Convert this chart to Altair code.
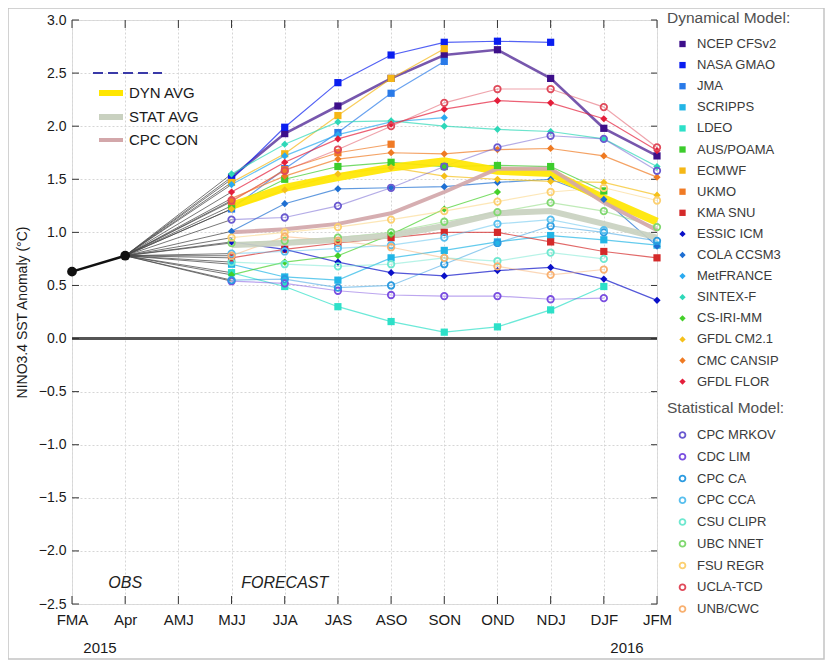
import altair as alt
import pandas as pd

FONT = "Liberation Sans"
W, H = 585, 584

months = ["FMA", "Apr", "AMJ", "MJJ", "JJA", "JAS", "ASO", "SON", "OND", "NDJ", "DJF", "JFM"]
fc_months = ["MJJ", "JJA", "JAS", "ASO", "SON", "OND", "NDJ", "DJF", "JFM"]
yticks = [-2.5, -2.0, -1.5, -1.0, -0.5, 0.0, 0.5, 1.0, 1.5, 2.0, 2.5, 3.0]

obs_months = ["FMA", "Apr"]
obs_values = [0.63, 0.78]

dyn_names = ["NCEP CFSv2", "NASA GMAO", "JMA", "SCRIPPS", "LDEO", "AUS/POAMA", "ECMWF", "UKMO",
             "KMA SNU", "ESSIC ICM", "COLA CCSM3", "MetFRANCE", "SINTEX-F", "CS-IRI-MM",
             "GFDL CM2.1", "CMC CANSIP", "GFDL FLOR"]
dyn_colors = ["#3d0f8a", "#0a1ef0", "#2a7ae8", "#22b5e6", "#2de0c8", "#3ccc2c", "#f5b716", "#f07a25",
              "#d42a2a", "#0a10c8", "#1e6fd2", "#2aaaf0", "#2ed8b8", "#44d02a", "#f5c01a", "#ef7a22",
              "#e41e3a"]
dyn_shapes = ["square"] * 9 + ["diamond"] * 8

ncep_cfsv2 = [1.52, 1.93, 2.19, 2.45, 2.67, 2.72, 2.45, 1.98, 1.72]
nasa_gmao = [1.50, 1.99, 2.41, 2.67, 2.79, 2.80, 2.79, None, None]
jma = [1.22, 1.60, 1.94, 2.31, 2.61, None, None, None, None]
scripps = [0.70, 0.58, 0.55, 0.76, 0.83, 0.91, 0.97, 0.93, 0.88]
ldeo = [0.62, 0.49, 0.30, 0.16, 0.06, 0.11, 0.27, 0.49, None]
aus_poama = [1.25, 1.50, 1.62, 1.66, 1.62, 1.63, 1.62, 1.39, None]
ecmwf = [1.47, 1.74, 2.10, 2.45, 2.73, None, None, None, None]
ukmo = [1.29, 1.59, 1.75, 1.83, None, None, None, None, None]
kma_snu = [0.76, 0.84, 0.90, 0.95, 1.00, 1.00, 0.91, 0.82, 0.76]
essic_icm = [0.91, 0.84, 0.72, 0.62, 0.59, 0.64, 0.67, 0.56, 0.36]
cola_ccsm3 = [1.01, 1.27, 1.41, 1.42, 1.43, 1.47, 1.50, 1.31, 0.87]
metfrance = [1.45, 1.72, 1.92, 2.04, 2.08, None, None, None, None]
sintex_f = [1.55, 1.83, 2.04, 2.05, 2.00, 1.97, 1.95, 1.88, 1.62]
cs_iri_mm = [0.60, 0.72, 0.78, 0.98, 1.22, 1.38, None, None, None]
gfdl_cm21 = [1.22, 1.40, 1.55, 1.61, 1.53, 1.50, 1.48, 1.47, 1.35]
cmc_cansip = [1.32, 1.53, 1.69, 1.75, 1.74, 1.78, 1.79, 1.72, 1.52]
gfdl_flor = [1.38, 1.66, 1.88, 2.02, 2.16, 2.24, 2.22, 2.07, 1.77]
dyn_series = [ncep_cfsv2, nasa_gmao, jma, scripps, ldeo, aus_poama, ecmwf, ukmo, kma_snu,
              essic_icm, cola_ccsm3, metfrance, sintex_f, cs_iri_mm, gfdl_cm21, cmc_cansip, gfdl_flor]

stat_names = ["CPC MRKOV", "CDC LIM", "CPC CA", "CPC CCA", "CSU CLIPR", "UBC NNET", "FSU REGR",
              "UCLA-TCD", "UNB/CWC"]
stat_colors = ["#6a5ad0", "#7a4ee0", "#2a9ae0", "#58bfee", "#6fe8d0", "#80d870", "#fcd070",
               "#e04a5a", "#f8b070"]
cpc_mrkov = [1.12, 1.14, 1.25, 1.42, 1.62, 1.80, 1.91, 1.88, 1.58]
cdc_lim = [0.54, 0.52, 0.45, 0.41, 0.40, 0.40, 0.37, 0.38, None]
cpc_ca = [0.55, 0.56, 0.48, 0.50, 0.70, 0.90, 1.06, 1.00, 0.92]
cpc_cca = [0.80, 0.82, 0.85, 0.88, 0.95, 1.08, 1.12, 1.02, None]
csu_clipr = [0.72, 0.70, 0.68, 0.70, 0.76, 0.73, 0.81, 0.75, None]
ubc_nnet = [0.90, 0.92, 0.95, 1.00, 1.10, 1.19, 1.28, 1.20, 1.05]
fsu_regr = [0.95, 1.00, 1.05, 1.12, 1.20, 1.29, 1.38, 1.42, 1.30]
ucla_tcd = [1.30, 1.58, 1.78, 2.00, 2.22, 2.35, 2.35, 2.18, 1.80]
unb_cwc = [0.78, 0.96, 0.92, 0.86, 0.76, 0.68, 0.60, 0.65, None]
stat_series = [cpc_mrkov, cdc_lim, cpc_ca, cpc_cca, csu_clipr, ubc_nnet, fsu_regr, ucla_tcd, unb_cwc]

avg_names = ["DYN AVG", "STAT AVG", "CPC CON"]
avg_colors = ["#ffe600", "#c9d1c0", "#d3a7aa"]
avg_widths = [8, 6, 4]
dyn_avg = [1.25, 1.42, 1.52, 1.61, 1.67, 1.58, 1.56, 1.32, 1.10]
stat_avg = [0.88, 0.90, 0.93, 0.97, 1.06, 1.18, 1.20, 1.08, 0.95]
cpc_con = [1.00, 1.03, 1.08, 1.18, 1.38, 1.60, 1.60, 1.28, 1.02]
avg_series = [dyn_avg, stat_avg, cpc_con]

annot_labels = ["OBS", "FORECAST"]
annot_months = ["Apr", "JJA"]


def to_long(names, series):
    rows = []
    for name, vals in zip(names, series):
        for i, (m, v) in enumerate(zip(fc_months, vals)):
            if v is not None:
                rows.append({"model": name, "month": m, "idx": i, "value": v})
    return pd.DataFrame(rows)


dyn_df = to_long(dyn_names, dyn_series)
stat_df = to_long(stat_names, stat_series)

conn_rows = []
for name, vals in list(zip(dyn_names, dyn_series)) + list(zip(stat_names, stat_series)):
    conn_rows.append({"model": name, "month": "Apr", "idx": 0, "value": obs_values[-1]})
    conn_rows.append({"model": name, "month": "MJJ", "idx": 1, "value": vals[0]})
conn_df = pd.DataFrame(conn_rows)
obs_df = pd.DataFrame({"month": obs_months, "value": obs_values, "idx": [0, 1]})

grid_kw = dict(grid=True, gridColor="#d6d6d6", gridDash=[2, 2], gridWidth=1, ticks=False, domain=False)
xenc = alt.X("month:O", scale=alt.Scale(domain=months, type="point", padding=0),
             axis=alt.Axis(title=None, labelAngle=0, labelFont=FONT, labelFontSize=15,
                           labelColor="#1a1a1a", labelPadding=8, **grid_kw))
yenc = alt.Y("value:Q", scale=alt.Scale(domain=[-2.5, 3.0], nice=False, zero=False),
             axis=alt.Axis(values=yticks, format=".1f", title="NINO3.4 SST Anomaly (°C)",
                           titleFont=FONT, titleFontSize=14, titleFontWeight="normal",
                           titleColor="#1a1a1a", titlePadding=9, labelFont=FONT, labelFontSize=14,
                           labelColor="#1a1a1a", labelPadding=6, **grid_kw))

leg_common = dict(orient="none", titleFont=FONT, titleFontSize=15.5, titleFontWeight="normal",
                  titleColor="#505050", labelFont=FONT, labelFontSize=13, labelColor="#3a3a3a",
                  symbolOffset=9, labelOffset=8, padding=0)
dyn_legend = alt.Legend(title="Dynamical Model:", legendX=595, legendY=-9, symbolSize=40,
                        symbolStrokeWidth=0, rowPadding=7.1, titlePadding=11, **leg_common)
stat_legend = alt.Legend(title="Statistical Model:", legendX=595, legendY=381, symbolSize=34,
                         symbolStrokeWidth=1.8, rowPadding=6.75, titlePadding=12, **leg_common)

one = pd.DataFrame({"a": [0]})

border = alt.Chart(one).mark_rect(fillOpacity=0, stroke="#c4c4c4", strokeWidth=1.5).encode(
    x=alt.value(-64), x2=alt.value(W + 167), y=alt.value(-12), y2=alt.value(H + 55))

zero = alt.Chart(pd.DataFrame({"value": [0.0]})).mark_rule(color="#555555", strokeWidth=3).encode(y=yenc)

ytick_df = pd.DataFrame({"value": yticks})
xtick_df = pd.DataFrame({"month": months})
ticks_l = alt.Chart(ytick_df).mark_rule(color="#333333").encode(y=yenc, x=alt.value(0), x2=alt.value(7))
ticks_r = alt.Chart(ytick_df).mark_rule(color="#333333").encode(y=yenc, x=alt.value(W - 6), x2=alt.value(W))
ticks_b = alt.Chart(xtick_df).mark_rule(color="#333333").encode(x=xenc, y=alt.value(H - 8), y2=alt.value(H))
ticks_t = alt.Chart(xtick_df).mark_rule(color="#333333").encode(x=xenc, y=alt.value(0), y2=alt.value(8))

connectors = alt.Chart(conn_df).mark_line(color="#4a4a4a", strokeWidth=1, opacity=0.75).encode(
    x=xenc, y=yenc, detail="model:N", order="idx:Q")

dyn_lines = alt.Chart(dyn_df).mark_line(opacity=0.7).encode(
    x=xenc, y=yenc, order="idx:Q",
    color=alt.Color("model:N", scale=alt.Scale(domain=dyn_names, range=dyn_colors), legend=None),
    strokeWidth=alt.condition(alt.datum.model == "NCEP CFSv2", alt.value(2.6), alt.value(1.2)))

stat_lines = alt.Chart(stat_df).mark_line(opacity=0.5, strokeWidth=1.2).encode(
    x=xenc, y=yenc, order="idx:Q",
    stroke=alt.Stroke("model:N", scale=alt.Scale(domain=stat_names, range=stat_colors), legend=None))

avg_layers = []
for name, col, wdt, vals in zip(avg_names, avg_colors, avg_widths, avg_series):
    d = to_long([name], [vals])
    avg_layers.append(alt.Chart(d).mark_line(color=col, strokeWidth=wdt, strokeCap="butt", opacity=0.92).encode(
        x=xenc, y=yenc, order="idx:Q"))

dyn_pts = alt.Chart(dyn_df).mark_point(filled=True, size=52, opacity=1).encode(
    x=xenc, y=yenc,
    color=alt.Color("model:N", scale=alt.Scale(domain=dyn_names, range=dyn_colors), legend=dyn_legend),
    shape=alt.Shape("model:N", scale=alt.Scale(domain=dyn_names, range=dyn_shapes), legend=dyn_legend))

stat_pts = alt.Chart(stat_df).mark_point(filled=False, shape="circle", size=42, strokeWidth=1.8, opacity=1).encode(
    x=xenc, y=yenc,
    stroke=alt.Stroke("model:N", scale=alt.Scale(domain=stat_names, range=stat_colors), legend=stat_legend))

obs_line = alt.Chart(obs_df).mark_line(color="#111111", strokeWidth=2.5).encode(x=xenc, y=yenc, order="idx:Q")
obs_pts = alt.Chart(obs_df).mark_point(filled=True, color="#111111", size=95, opacity=1).encode(x=xenc, y=yenc)

annot = alt.Chart(pd.DataFrame({"month": annot_months, "label": annot_labels})).mark_text(
    font=FONT, fontSize=16, fontStyle="italic", color="#222222", baseline="middle").encode(
    x=xenc, y=alt.value(563), text="label:N")

year15 = alt.Chart(one).mark_text(font=FONT, fontSize=15, color="#1a1a1a", text="2015").encode(
    x=alt.value(28), y=alt.value(H + 44))
year16 = alt.Chart(one).mark_text(font=FONT, fontSize=15, color="#1a1a1a", text="2016").encode(
    x=alt.value(W - 30), y=alt.value(H + 44))

# upper-left key
key_dash = alt.Chart(one).mark_rule(color="#3a3aa8", strokeWidth=2, strokeDash=[10, 5]).encode(
    x=alt.value(21), x2=alt.value(90), y=alt.value(53))
key_layers = [key_dash]
for name, col, wdt, ypix in zip(avg_names, avg_colors, avg_widths, [73, 97, 120]):
    key_layers.append(alt.Chart(one).mark_rule(color=col, strokeWidth=min(wdt, 6), strokeCap="butt").encode(
        x=alt.value(27), x2=alt.value(51), y=alt.value(ypix)))
    key_layers.append(alt.Chart(one).mark_text(font=FONT, fontSize=15, color="#1a1a1a", align="left",
                                                baseline="middle", text=name).encode(
        x=alt.value(57), y=alt.value(ypix)))

chart = alt.layer(
    border, zero, ticks_l, ticks_r, ticks_b, ticks_t,
    connectors, dyn_lines, stat_lines, *avg_layers, dyn_pts, stat_pts, obs_line, obs_pts,
    annot, year15, year16, *key_layers
).resolve_scale(color="independent", stroke="independent", shape="independent").properties(
    width=W, height=H,
    autosize=alt.AutoSizeParams(type="none"),
    padding={"left": 64, "top": 12, "right": 168, "bottom": 56},
).configure_view(stroke="#333333", strokeWidth=1.5).configure(background="white")

chart.save("out.html", embed_options={"renderer": "svg", "actions": False})
